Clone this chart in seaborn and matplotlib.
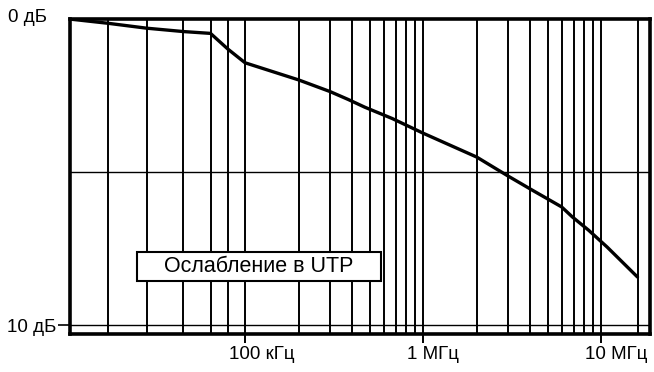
import matplotlib
matplotlib.use("Agg")
import matplotlib.pyplot as plt
from matplotlib.patches import Rectangle
from matplotlib.transforms import ScaledTranslation
import seaborn as sns
import pandas as pd

# ---- data ----
freq_hz = [10.3e3, 17e3, 28e3, 45e3, 64e3, 80e3, 100e3, 200e3, 300e3, 380e3,
           470e3, 670e3, 1e6, 2e6, 3e6, 4.1e6, 6e6, 6.9e6, 8.5e6, 10.8e6, 16e6]
atten_db = [0.0, 0.14, 0.30, 0.41, 0.47, 0.98, 1.43, 1.99, 2.37, 2.63,
            2.88, 3.25, 3.73, 4.51, 5.13, 5.59, 6.14, 6.47, 6.90, 7.45, 8.43]

x_major = [1e5, 1e6, 1e7]
x_major_labels = ["100 кГц", "1 МГц", "10 МГц"]
x_grid_extra = [17e3, 28e3, 45e3, 64e3, 80e3,
                2e5, 3e5, 4e5, 5e5, 6e5, 7e5, 8e5, 9e5,
                2e6, 3e6, 4e6, 5e6, 6e6, 7e6, 8e6, 9e6, 16e6]
y_top_label = "0 дБ"
y_bottom_label = "10 дБ"
legend_text = "Ослабление в UTP"

df = pd.DataFrame({"f": freq_hz, "a": atten_db})

sns.set_style("white")
plt.rcParams["font.family"] = ["Liberation Sans", "DejaVu Sans"]
plt.rcParams["text.color"] = "black"
plt.rcParams["xtick.color"] = "black"
plt.rcParams["ytick.color"] = "black"
plt.rcParams["xtick.labelcolor"] = "black"
plt.rcParams["ytick.labelcolor"] = "black"

fig = plt.figure(figsize=(6.54, 3.72), dpi=100)
ax = fig.add_axes([70 / 654, 1 - 334 / 372, 580 / 654, 315 / 372])

sns.lineplot(data=df, x="f", y="a", ax=ax, color="black", linewidth=2.4,
             zorder=4, estimator=None, sort=False)

ax.set_xscale("log")
ax.set_xlim(10.4e3, 18.8e6)
ax.set_ylim(10.29, 0)

# grid
ax.set_xticks(x_major)
ax.set_xticklabels(x_major_labels)
ax.set_xticks(x_grid_extra, minor=True)
ax.set_xticklabels([], minor=True)
ax.set_yticks([10])
ax.set_yticklabels([y_bottom_label])
ax.set_yticks([5], minor=True)
ax.grid(True, which="both", axis="x", color="black", linewidth=1.4)
ax.grid(True, which="both", axis="y", color="black", linewidth=1.0)

ax.tick_params(axis="x", which="major", direction="out", length=6.5, width=1.4,
               color="black", pad=2, labelsize=13.5, bottom=True,
               labelcolor="black")
ax.tick_params(axis="x", which="minor", length=0)
ax.tick_params(axis="y", which="major", direction="out", length=9, width=1.2,
               color="black", pad=1, labelsize=13.5, left=True,
               labelcolor="black")
ax.tick_params(axis="y", which="minor", length=0)

off = ScaledTranslation(-16 / 100, 0, fig.dpi_scale_trans)
for lab in ax.get_xticklabels():
    lab.set_horizontalalignment("left")
    lab.set_transform(lab.get_transform() + off)

ax.set_xlabel("")
ax.set_ylabel("")

for sp in ax.spines.values():
    sp.set_visible(True)
    sp.set_color("black")
    sp.set_linewidth(2.6)
    sp.set_zorder(6)

ax.annotate(y_top_label, xy=(0, 1), xycoords="axes fraction",
            xytext=(-23, 1), textcoords="offset pixels",
            ha="right", va="center", fontsize=13.5, color="black")

# label box
ax.add_patch(Rectangle((0.1155, 0.168), 0.4207, 0.092, transform=ax.transAxes,
                       facecolor="white", edgecolor="black", linewidth=1.5,
                       zorder=5))
ax.text(0.326, 0.213, legend_text, transform=ax.transAxes, ha="center",
        va="center", fontsize=15.5, zorder=7, color="black")

fig.savefig("out.png", dpi=100)
